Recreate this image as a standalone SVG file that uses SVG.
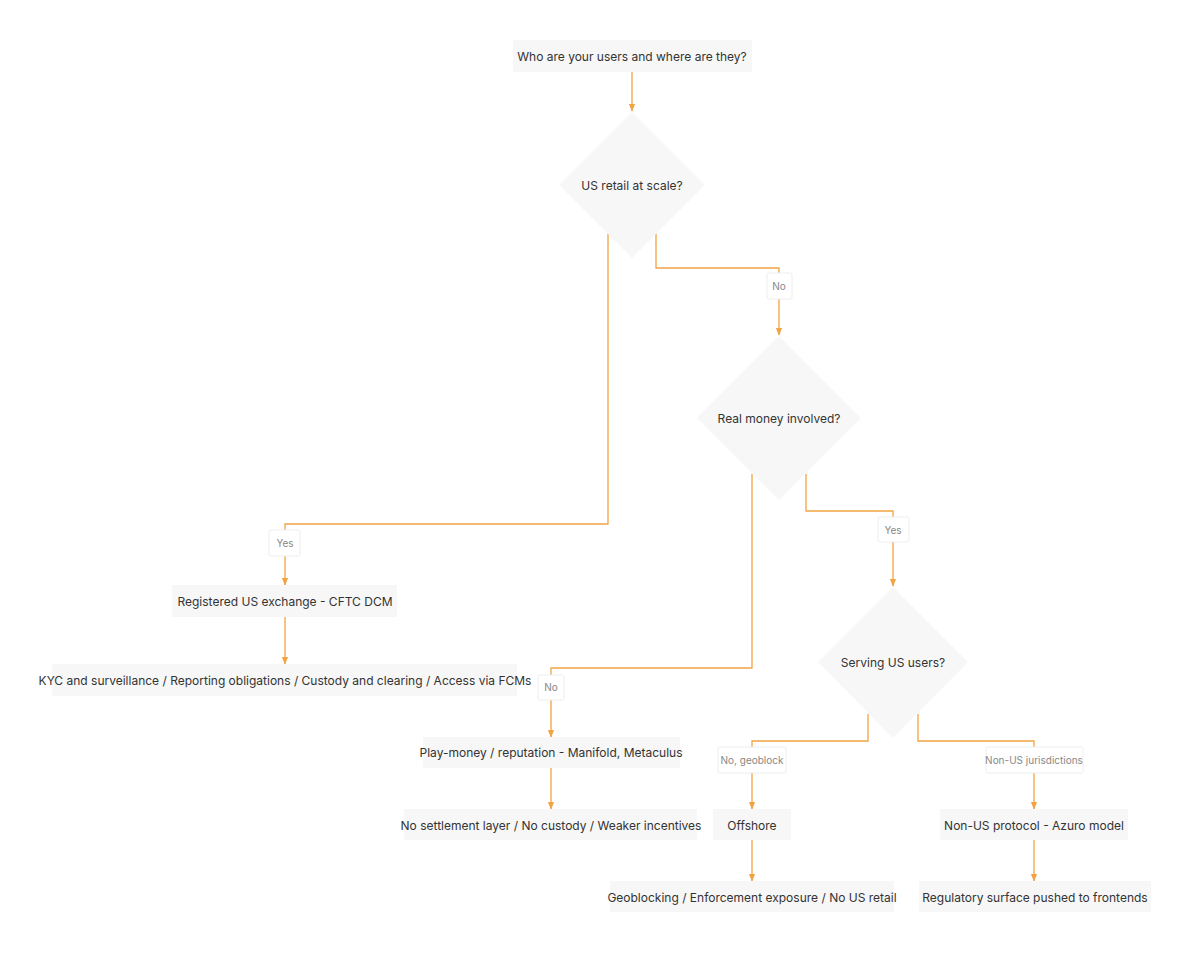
<svg xmlns="http://www.w3.org/2000/svg" width="1200" height="964" viewBox="0 0 1200 964">
<style>
.n{fill:#f7f7f7}
.t{font-family:Inter,"Liberation Sans",sans-serif;font-size:12px;fill:#333;text-anchor:middle;dominant-baseline:central}
.e{fill:none;stroke:#f2a444;stroke-width:1.3}
.lb{fill:#fff;stroke:#eee;stroke-width:1}
.lt{font-family:Inter,"Liberation Sans",sans-serif;font-size:10px;fill:#888;text-anchor:middle;dominant-baseline:central}
</style>
<defs><marker id="a" viewBox="0 0 10 10" refX="9" refY="5" markerWidth="6" markerHeight="6" orient="auto"><path d="M0,1 L10,5 L0,9 z" fill="#f2a444"/></marker></defs>
<rect width="1200" height="964" fill="#fff"/>
<g id="connectors">
<path class="e" d="M632,72 V111" marker-end="url(#a)"/>
<path class="e" d="M608,234 V524 H285 V585" marker-end="url(#a)"/>
<path class="e" d="M656,234 V268 H779 V335" marker-end="url(#a)"/>
<path class="e" d="M285,617 V664" marker-end="url(#a)"/>
<path class="e" d="M752,474 V668 H551 V737" marker-end="url(#a)"/>
<path class="e" d="M806,474 V511 H893 V586" marker-end="url(#a)"/>
<path class="e" d="M551,768 V809" marker-end="url(#a)"/>
<path class="e" d="M868,714 V741 H752 V809" marker-end="url(#a)"/>
<path class="e" d="M918,714 V741 H1034 V809" marker-end="url(#a)"/>
<path class="e" d="M752,840 V881" marker-end="url(#a)"/>
<path class="e" d="M1034,840 V881" marker-end="url(#a)"/>
<rect class="lb" x="269" y="530" width="31" height="26" rx="2"/><text class="lt" x="285" y="543">Yes</text>
<rect class="lb" x="767" y="273" width="25" height="26" rx="2"/><text class="lt" x="779" y="286">No</text>
<rect class="lb" x="538" y="675" width="26" height="25" rx="2"/><text class="lt" x="551" y="687">No</text>
<rect class="lb" x="878" y="517" width="31" height="25" rx="2"/><text class="lt" x="893" y="530">Yes</text>
<rect class="lb" x="718" y="747" width="68" height="26" rx="2"/><text class="lt" x="752" y="760">No, geoblock</text>
<rect class="lb" x="986" y="747" width="97" height="26" rx="2"/><text class="lt" x="1034" y="760">Non-US jurisdictions</text>
</g>
<g id="n1"><rect class="n" x="513" y="40" width="239" height="32"/><text class="t" x="632" y="56">Who are your users and where are they?</text></g>
<g id="d1"><path class="n" d="M632,112 L705,185 L632,258 L559,185 Z"/><text class="t" x="632" y="185">US retail at scale?</text></g>
<g id="d2"><path class="n" d="M779,336 L861,418 L779,500 L697,418 Z"/><text class="t" x="779" y="418">Real money involved?</text></g>
<g id="d3"><path class="n" d="M893,587 L968,662 L893,738 L818,662 Z"/><text class="t" x="893" y="662">Serving US users?</text></g>
<g id="n2"><rect class="n" x="172" y="585" width="225" height="32"/><text class="t" x="285" y="601">Registered US exchange - CFTC DCM</text></g>
<g id="n3"><rect class="n" x="52" y="664" width="465" height="32"/><text class="t" x="285" y="680">KYC and surveillance / Reporting obligations / Custody and clearing / Access via FCMs</text></g>
<g id="n4"><rect class="n" x="423" y="737" width="257" height="31"/><text class="t" x="551" y="752">Play-money / reputation - Manifold, Metaculus</text></g>
<g id="n5"><rect class="n" x="404" y="809" width="293" height="31"/><text class="t" x="551" y="825">No settlement layer / No custody / Weaker incentives</text></g>
<g id="n6"><rect class="n" x="713" y="809" width="78" height="31"/><text class="t" x="752" y="825">Offshore</text></g>
<g id="n7"><rect class="n" x="940" y="809" width="188" height="31"/><text class="t" x="1034" y="825">Non-US protocol - Azuro model</text></g>
<g id="n8"><rect class="n" x="610" y="881" width="284" height="31"/><text class="t" x="752" y="897">Geoblocking / Enforcement exposure / No US retail</text></g>
<g id="n9"><rect class="n" x="919" y="881" width="232" height="31"/><text class="t" x="1035" y="897">Regulatory surface pushed to frontends</text></g>
</svg>
